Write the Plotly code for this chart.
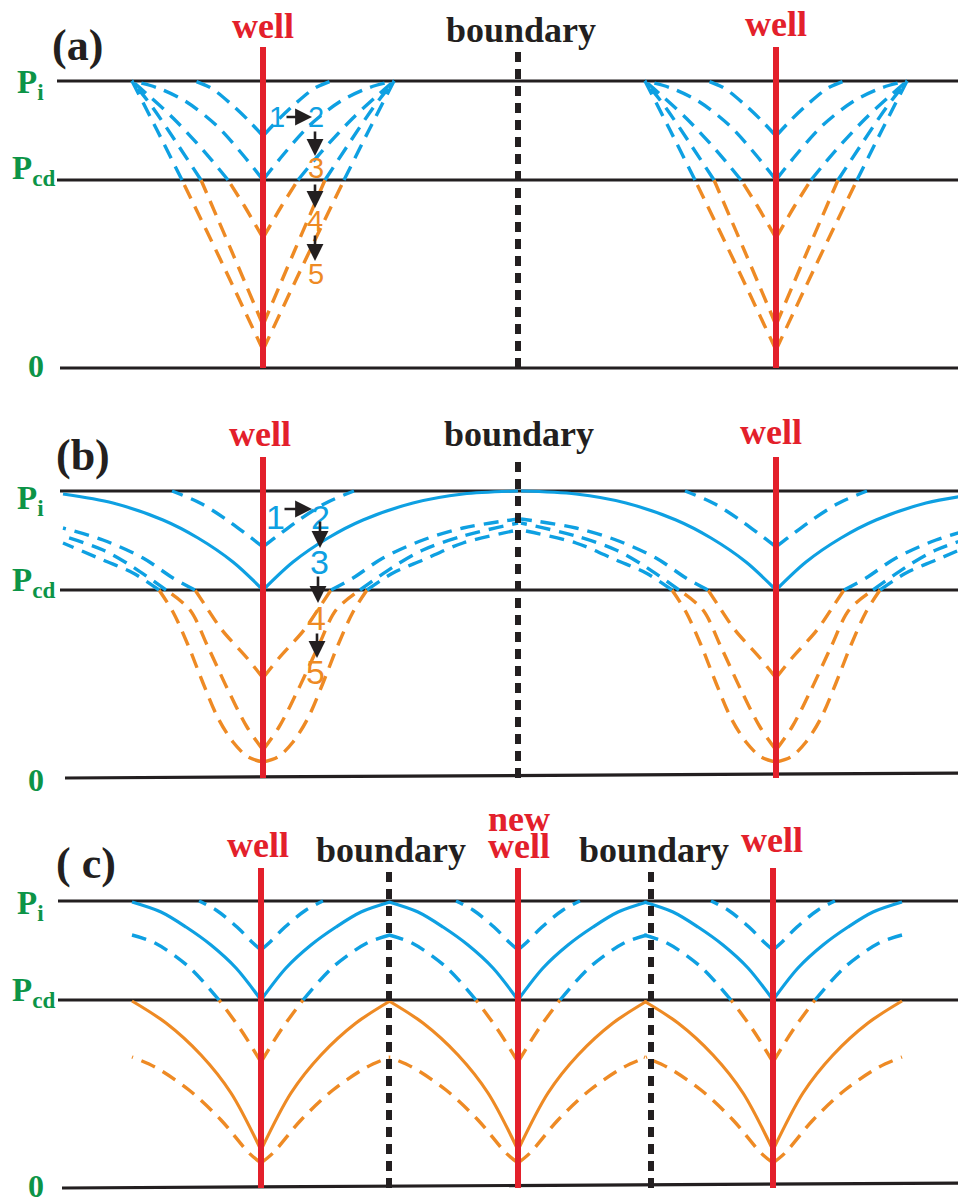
import plotly.graph_objects as go

W, H = 966, 1202          # page size
OFF = 8                   # default body margin of the html page
FW, FH = W - OFF, H - OFF  # figure size so that figure + margin fills the page

BLUE = "#0EA0E2"
ORANGE = "#EE8A24"
RED = "#E3202B"
BLACK = "#231F20"
GREEN = "#0C9447"

# pressure levels (arbitrary units, P_i > P_cd > 0)
P_I = 28.7
P_CD = 18.8
LEVELS = [P_I, P_CD, 0.0]

# ---------------- panel (a): isolated wells ----------------
A_WELLS = [263, 776]
A_BOUNDARIES = [518]
A_LINE_X0 = [57, 57, 60]
A_ZERO_END = 0.0
A_WELL_TOP = 32.1
A_BOUND_TOP = 31.6
A1_R = [0, 15, 32, 52, 68]
A1_P = [23.2, 24.8, 26.4, 28.0, 28.7]
A2_R = [0, 20, 46, 78, 105, 131]
A2_P = [18.8, 21.3, 24.2, 26.7, 28.0, 28.7]
A3_R = [0, 18, 35, 60, 90, 115, 131]
A3_P = [13.0, 16.1, 18.8, 21.8, 25.0, 27.3, 28.7]
A4_R = [0, 31, 62, 85, 110, 131]
A4_P = [4.3, 11.6, 18.8, 22.3, 26.0, 28.7]
A5_R = [0, 40, 81, 106, 131]
A5_P = [1.8, 10.3, 18.8, 23.8, 28.7]

# ---------------- panel (b): interfering wells ----------------
B_WELLS = [263, 776]
B_BOUNDARIES = [518]
B_LINE_X0 = [60, 60, 65]
B_ZERO_END = 0.5
B_WELL_TOP = 32.1
B_BOUND_TOP = 32.0
B1_R = [0, 13, 36, 63, 91]
B1_P = [23.1, 24.1, 25.8, 27.5, 28.7]
B2_R = [0, 30, 65, 100, 150, 200, 255]
B2_P = [18.8, 21.6, 24.0, 25.8, 27.5, 28.4, 28.7]
B3_R = [0, 16, 41, 58, 68, 90, 120, 160, 200, 255]
B3_P = [10.0, 12.0, 14.8, 17.3, 18.8, 20.0, 22.0, 23.8, 25.0, 25.9]
B4_R = [0, 16, 35, 55, 73, 97, 130, 160, 200, 255]
B4_P = [2.8, 5.1, 8.8, 13.1, 16.8, 18.8, 21.1, 22.8, 24.2, 25.5]
B5_R = [0, 15, 30, 45, 60, 75, 90, 104, 130, 160, 200, 255]
B5_P = [1.6, 2.1, 3.6, 6.0, 9.5, 13.3, 16.6, 18.8, 20.5, 21.8, 23.5, 24.8]

# ---------------- panel (c): infill (new) well ----------------
C_WELLS = [261, 518, 773]
C_BOUNDARIES = [389, 651]
C_LINE_X0 = [58, 58, 62]
C_ZERO_END = 0.5
C_WELL_TOP = 32.0
C_BOUND_TOP = 31.6
C1_R = [0, 8, 24, 45, 62]
C1_P = [23.8, 24.5, 26.1, 27.8, 28.7]
C2_R = [0, 25, 50, 75, 100, 129]
C2_P = [18.8, 22.0, 24.3, 26.1, 27.6, 28.6]
C3_R = [0, 20, 42, 72, 106, 129]
C3_P = [12.6, 15.8, 18.8, 22.1, 24.5, 25.3]
C4_R = [0, 30, 60, 95, 129]
C4_P = [3.8, 9.5, 13.3, 16.5, 18.7]
C5_R = [0, 12, 40, 72, 106, 129]
C5_P = [2.5, 3.5, 6.8, 9.8, 12.1, 13.1]

# page-pixel baseline of each panel (layout only)
PANEL_BASE = [368, 778, 1188]
YAXES = ["y", "y2", "y3"]

DASH = "15px,9px"
fig = go.Figure()


def add_line(x, y, yax, color, width, dash="solid", shape="linear"):
    fig.add_trace(go.Scatter(
        x=x, y=y, yaxis=yax, mode="lines", hoverinfo="skip", showlegend=False,
        line=dict(color=color, width=width, dash=dash, shape=shape, smoothing=0.9)))


def add_profile(yax, wells, r, p, dash, rmax_out=1e9, rmax_in=1e9, width=3.4):
    for i, w in enumerate(wells):
        for side in (-1, 1):
            outer = (side == -1 and i == 0) or (side == 1 and i == len(wells) - 1)
            rmax = rmax_out if outer else rmax_in
            pts = [(w + side * ri, pi) for ri, pi in zip(r, p) if ri <= rmax]
            blue = [(x, y) for x, y in pts if y >= P_CD - 1e-6]
            orange = [(x, y) for x, y in pts if y <= P_CD + 1e-6]
            for seg, col in ((orange, ORANGE), (blue, BLUE)):
                if len(seg) >= 2:
                    add_line([s[0] for s in seg], [s[1] for s in seg], yax, col, width, dash, "spline")


panels = [
    dict(wells=A_WELLS, bounds=A_BOUNDARIES, x0=A_LINE_X0, zend=A_ZERO_END,
         wtop=A_WELL_TOP, btop=A_BOUND_TOP),
    dict(wells=B_WELLS, bounds=B_BOUNDARIES, x0=B_LINE_X0, zend=B_ZERO_END,
         wtop=B_WELL_TOP, btop=B_BOUND_TOP),
    dict(wells=C_WELLS, bounds=C_BOUNDARIES, x0=C_LINE_X0, zend=C_ZERO_END,
         wtop=C_WELL_TOP, btop=C_BOUND_TOP),
]

# horizontal reference lines
for k, pn in enumerate(panels):
    yax = YAXES[k]
    for j, lv in enumerate(LEVELS):
        yend = pn["zend"] if lv == 0.0 else lv
        add_line([pn["x0"][j], W], [lv, yend], yax, BLACK, 3.2)

# profiles panel (a)
for r, p in ((A1_R, A1_P), (A2_R, A2_P), (A3_R, A3_P), (A4_R, A4_P), (A5_R, A5_P)):
    add_profile("y", A_WELLS, r, p, DASH)

# profiles panel (b)
add_profile("y2", B_WELLS, B1_R, B1_P, DASH)
add_profile("y2", B_WELLS, B2_R, B2_P, "solid", rmax_out=200, width=3.2)
for r, p in ((B3_R, B3_P), (B4_R, B4_P), (B5_R, B5_P)):
    add_profile("y2", B_WELLS, r, p, DASH, rmax_out=200)

# profiles panel (c)
add_profile("y3", C_WELLS, C1_R, C1_P, DASH)
add_profile("y3", C_WELLS, C2_R, C2_P, "solid", width=3.2)
add_profile("y3", C_WELLS, C3_R, C3_P, DASH)
add_profile("y3", C_WELLS, C4_R, C4_P, "solid", width=3.2)
add_profile("y3", C_WELLS, C5_R, C5_P, DASH)

# boundaries and wells
for k, pn in enumerate(panels):
    yax = YAXES[k]
    for b in pn["bounds"]:
        add_line([b, b], [0, pn["btop"]], yax, BLACK, 6, "10px,7px")
    for w in pn["wells"]:
        add_line([w, w], [0, pn["wtop"]], yax, RED, 6)

# ---------------- text ----------------
ann = []


def px(x):
    return (x - OFF) / FW


def py(y):
    return 1 - (y - OFF) / FH


def txt(text, x, y, size, color, family="Liberation Serif", bold=True, xanchor="center"):
    t = "<b>%s</b>" % text if bold else text
    ann.append(dict(text=t, x=px(x), y=py(y), xref="paper", yref="paper",
                    xanchor=xanchor, yanchor="middle", showarrow=False,
                    font=dict(family=family, size=size, color=color)))


def arrow(x0, y0, x1, y1):
    ann.append(dict(text="", x=px(x1), y=py(y1), xref="paper", yref="paper",
                    ax=x0 - x1, ay=y0 - y1, showarrow=True, arrowhead=2,
                    arrowsize=1.3, arrowwidth=2.6, arrowcolor=BLACK, standoff=0))


# panel titles
txt("(a)", 77, 46, 44, BLACK)
txt("(b)", 83, 455, 44, BLACK)
txt("( c)", 86, 863, 44, BLACK)

# well / boundary labels
for x, y in ((263, 26), (776, 24)):
    txt("well", x, y, 36, RED)
txt("boundary", 521, 30, 36, BLACK)
for x, y in ((260, 434), (771, 432)):
    txt("well", x, y, 36, RED)
txt("boundary", 519, 434, 36, BLACK)
txt("well", 258, 845, 36, RED)
txt("boundary", 391, 850, 36, BLACK)
txt("new", 519, 819, 36, RED)
txt("well", 519, 846, 36, RED)
txt("boundary", 654, 850, 36, BLACK)
txt("well", 772, 840, 36, RED)

# pressure level labels
for yi, ycd, y0 in ((84, 170, 366), (501, 582, 780), (905, 992, 1186)):
    txt("P<sub>i</sub>", 15, yi, 33, GREEN, xanchor="left")
    txt("P<sub>cd</sub>", 10, ycd, 33, GREEN, xanchor="left")
    txt("0", 36, y0, 32, GREEN)

# time-step numbers and arrows, panel (a)
SANS = "Liberation Sans"
txt("1", 277, 117, 29, BLUE, SANS, bold=False)
txt("2", 316, 117, 29, BLUE, SANS, bold=False)
txt("3", 316, 168, 29, ORANGE, SANS, bold=False)
txt("4", 315, 221, 29, ORANGE, SANS, bold=False)
txt("5", 316, 274, 29, ORANGE, SANS, bold=False)
arrow(285, 117, 312, 117)
arrow(315, 130, 315, 156)
arrow(315, 183, 315, 208)
arrow(315, 234, 315, 261)

# panel (b)
txt("1", 275, 517, 34, BLUE, SANS, bold=False)
txt("2", 320, 517, 34, BLUE, SANS, bold=False)
txt("3", 319, 562, 34, BLUE, SANS, bold=False)
txt("4", 316, 618, 34, ORANGE, SANS, bold=False)
txt("5", 315, 672, 34, ORANGE, SANS, bold=False)
arrow(283, 509, 312, 509)
arrow(320, 520, 320, 548)
arrow(318, 575, 318, 603)
arrow(317, 632, 317, 658)

layout_axes = {}
for k, base in enumerate(PANEL_BASE):
    name = "yaxis" if k == 0 else "yaxis%d" % (k + 1)
    ax = dict(range=[(base - H) / 10.0, (base - OFF) / 10.0], visible=False,
              domain=[0, 1], fixedrange=True)
    if k > 0:
        ax["overlaying"] = "y"
    layout_axes[name] = ax

fig.update_layout(
    width=FW, height=FH, margin=dict(l=0, r=0, t=0, b=0),
    paper_bgcolor="white", plot_bgcolor="white",
    xaxis=dict(range=[OFF, W], visible=False, fixedrange=True, domain=[0, 1]),
    annotations=ann, showlegend=False,
    **layout_axes,
)

fig.write_html("out.html")
